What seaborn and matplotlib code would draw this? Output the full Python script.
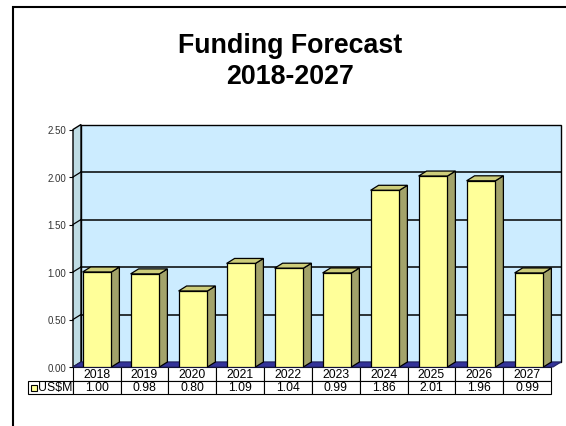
import pandas as pd
import seaborn as sns
import matplotlib.pyplot as plt
from matplotlib.patches import Polygon, Rectangle

# data
years = ['2018', '2019', '2020', '2021', '2022', '2023', '2024', '2025', '2026', '2027']
usd_m = [1.00, 0.98, 0.80, 1.09, 1.04, 0.99, 1.86, 2.01, 1.96, 0.99]
y_ticks = [0.0, 0.5, 1.0, 1.5, 2.0, 2.5]

plt.rcParams['font.family'] = ['Liberation Sans', 'DejaVu Sans']

W, H = 566, 427
fig = plt.figure(figsize=(W / 100, H / 100), dpi=100)
ax = fig.add_axes([73 / W, 1 - 368 / H, 480 / W, 237.5 / H])

df = pd.DataFrame({'year': years, 'US$M': usd_m})
sns.barplot(data=df, x='year', y='US$M', color='#FFFF99', saturation=1,
            width=0.6, edgecolor='black', linewidth=0.9, errorbar=None,
            ax=ax, zorder=5)
bars = list(ax.patches)

ax.set_xlim(-0.5, 9.5)
ax.set_ylim(0, 2.5)

# 3d depth (8 px right, 5 px up) in data units
dx = 8 / 48
dy = 5 / 95
x_left, x_right = -0.5, 9.5

# back wall, side wall, floor
ax.add_patch(Rectangle((x_left + dx, dy), 10, 2.5, fc='#CCECFF', ec='black',
                       lw=1, zorder=0, clip_on=False))
ax.add_patch(Polygon([(x_left, 0), (x_left, 2.5), (x_left + dx, 2.5 + dy), (x_left + dx, dy)],
                     closed=True, fc='#BFDCE4', ec='black', lw=1, zorder=1, clip_on=False))
ax.add_patch(Polygon([(x_left, 0), (x_right, 0), (x_right + dx, dy), (x_left + dx, dy)],
                     closed=True, fc='#333399', ec='#222266', lw=0.8, zorder=1, clip_on=False))

# gridlines on back wall + diagonals on side wall
for t in y_ticks[1:-1]:
    ax.plot([x_left + dx, x_right + dx], [t + dy, t + dy], color='black', lw=1.1,
            zorder=2, clip_on=False)
    ax.plot([x_left, x_left + dx], [t, t + dy], color='black', lw=0.9,
            zorder=2, clip_on=False)

# side and top faces of the bars
for p in bars:
    x0, w, h = p.get_x(), p.get_width(), p.get_height()
    ax.add_patch(Polygon([(x0 + w, 0), (x0 + w, h), (x0 + w + dx, h + dy), (x0 + w + dx, dy)],
                         closed=True, fc='#A3A36A', ec='black', lw=0.9, zorder=4, clip_on=False))
    ax.add_patch(Polygon([(x0, h), (x0 + w, h), (x0 + w + dx, h + dy), (x0 + dx, h + dy)],
                         closed=True, fc='#CDCD7A', ec='black', lw=0.9, zorder=4, clip_on=False))

ax.set_facecolor('none')
for s in ax.spines.values():
    s.set_visible(False)
ax.set_xticks([])
ax.set_xlabel('')
ax.set_ylabel('')
ax.set_yticks(y_ticks, labels=[f'{t:.2f}' for t in y_ticks])
ax.tick_params(axis='y', length=3, width=0.8, pad=2, labelsize=7, labelcolor='#333333')

# data table under the plot
cell_text = [[''] + years, ['US$M'] + [f'{v:.2f}' for v in usd_m]]
tbl = ax.table(cellText=cell_text, cellLoc='center', colWidths=[45] + [48] * 10,
               bbox=[-45 / 480, -27 / 237.5, 523 / 480, 27 / 237.5])
tbl.auto_set_font_size(False)
tbl.set_fontsize(8.8)
for (r, c), cell in tbl.get_celld().items():
    cell.set_linewidth(0.8)
tbl[0, 0].set_edgecolor('none')
tbl[1, 0].get_text().set_ha('left')
tbl[1, 0].PAD = 10 / 45
ax.plot([(33.5 - 73) / 480], [-(389 - 368) / 237.5], marker='s', ms=4.3,
        mfc='#FFFF99', mec='black', mew=0.8, transform=ax.transAxes, clip_on=False)

# title
fig.text(290 / W, 1 - 46 / H, 'Funding Forecast', ha='center', va='center',
         fontsize=19.3, fontweight='bold')
fig.text(290 / W, 1 - 77 / H, '2018-2027', ha='center', va='center',
         fontsize=19.3, fontweight='bold')

# chart area border
fig.add_artist(Rectangle((13 / W, -0.05), 1, 1.05 - 8 / H, transform=fig.transFigure,
                         fill=False, ec='black', lw=1.5))

fig.savefig('out.png', dpi=100)
